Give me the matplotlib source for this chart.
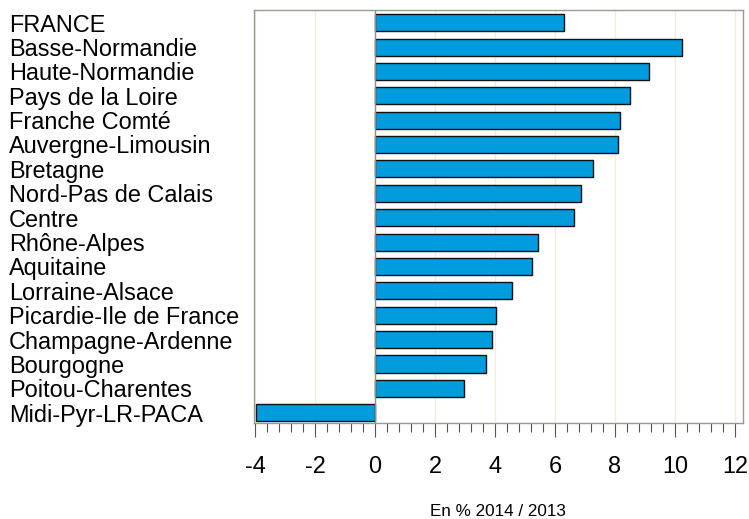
import matplotlib
matplotlib.use("Agg")
import matplotlib.pyplot as plt
from matplotlib.ticker import MultipleLocator
from matplotlib.transforms import blended_transform_factory

plt.rcParams["font.family"] = ["Liberation Sans", "DejaVu Sans"]
plt.rcParams["axes.unicode_minus"] = False

regions = [
    "FRANCE", "Basse-Normandie", "Haute-Normandie", "Pays de la Loire",
    "Franche Comté", "Auvergne-Limousin", "Bretagne", "Nord-Pas de Calais",
    "Centre", "Rhône-Alpes", "Aquitaine", "Lorraine-Alsace",
    "Picardie-Ile de France", "Champagne-Ardenne", "Bourgogne",
    "Poitou-Charentes", "Midi-Pyr-LR-PACA",
]
values = [6.29, 10.24, 9.13, 8.49, 8.18, 8.10, 7.28, 6.88, 6.63,
          5.43, 5.24, 4.58, 4.04, 3.89, 3.71, 2.95, -3.98]
xticks = [-4, -2, 0, 2, 4, 6, 8, 10, 12]
xlabel = "En % 2014 / 2013"

fig = plt.figure(figsize=(7.49, 5.19), dpi=100)
ax = fig.add_axes([0.3387, 0.185, 0.9920 - 0.3387, 0.9798 - 0.185])

n = len(regions)
ypos = [n - 1 - i for i in range(n)]

for x in xticks:
    if x != 0:
        ax.axvline(x, color="#efeee4", lw=1.0, zorder=0)

ax.barh(ypos, values, height=0.7, color="#009cde", edgecolor="#111111",
        linewidth=1.0, zorder=2)
ax.axvline(0, color="#8c8c8c", lw=1.0, zorder=3)

ax.set_xlim(-4.05, 12.27)
ax.set_ylim(-0.42, n - 0.5)

ax.set_xticks(xticks)
ax.xaxis.set_minor_locator(MultipleLocator(0.4))
ax.tick_params(axis="x", which="major", length=10, width=0.8, color="#555555",
               labelsize=16.9, pad=13)
ax.tick_params(axis="x", which="minor", length=6.5, width=0.8, color="#555555")
ax.set_yticks([])

for s in ax.spines.values():
    s.set_color("#999990")
    s.set_linewidth(1.0)

trans = blended_transform_factory(fig.transFigure, ax.transData)
for y, name in zip(ypos, regions):
    ax.text(9 / 749, y - 0.365, name, transform=trans, ha="left", va="baseline",
            fontsize=16.9, clip_on=False)

fig.text(0.665, 1 - 511 / 519, xlabel, ha="center", va="center", fontsize=12.3)

fig.savefig("out.png", dpi=100)
